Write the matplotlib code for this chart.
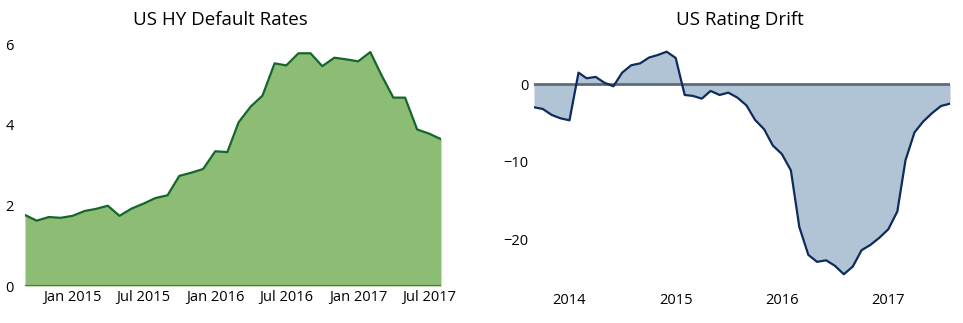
import matplotlib
matplotlib.use("Agg")
import matplotlib.pyplot as plt
import matplotlib.dates as mdates
import numpy as np
import pandas as pd
from matplotlib import font_manager

names = {f.name for f in font_manager.fontManager.ttflist}
tick_font = "Liberation Sans Narrow" if "Liberation Sans Narrow" in names else "Open Sans"
print("tick font:", tick_font)

# Data
hy_dates = pd.date_range("2014-09-01", periods=36, freq="MS")
hy_default = [1.76, 1.62, 1.71, 1.69, 1.74, 1.86, 1.91, 1.99, 1.74, 1.92,
              2.04, 2.18, 2.25, 2.73, 2.81, 2.90, 3.34, 3.32, 4.06, 4.45,
              4.72, 5.52, 5.47, 5.77, 5.77, 5.45, 5.66, 5.62, 5.57, 5.80,
              5.24, 4.67, 4.67, 3.88, 3.78, 3.64]

drift_dates = pd.date_range("2013-09-01", periods=48, freq="MS")
rating_drift = [-2.97, -3.18, -3.96, -4.39, -4.65, 1.5, 0.77, 0.95, 0.2, -0.26,
                1.5, 2.45, 2.7, 3.44, 3.78, 4.2, 3.4, -1.38, -1.5, -1.85,
                -0.86, -1.38, -1.08, -1.72, -2.71, -4.6, -5.8, -7.9, -9.0, -11.1,
                -18.4, -22.0, -22.9, -22.7, -23.4, -24.5, -23.5, -21.4, -20.7, -19.8,
                -18.7, -16.4, -9.8, -6.2, -4.8, -3.7, -2.8, -2.5]

hy_yticks = [0, 2, 4, 6]
drift_yticks = [-20, -10, 0]

fig = plt.figure(figsize=(9.63, 3.23), dpi=100)

# Left chart
ax1 = fig.add_axes([25/963, 37/323, 416/963, 242/323])
ax1.fill_between(hy_dates, 0, hy_default, color="#8dbd74", lw=0)
ax1.plot(hy_dates, hy_default, color="#14662a", lw=1.6)
ax1.axhline(0, color="#7a6440", lw=1.6)
ax1.set_xlim(hy_dates[0], hy_dates[-1])
ax1.set_ylim(0, 6)
ax1.set_yticks(hy_yticks)
ax1.xaxis.set_major_locator(mdates.MonthLocator(bymonth=[1, 7]))
ax1.xaxis.set_major_formatter(mdates.DateFormatter("%b %Y"))
for s in ax1.spines.values():
    s.set_visible(False)
ax1.tick_params(length=0, labelsize=10.5, pad=3)
ax1.tick_params(axis="y", pad=8)

# Right chart
ax2 = fig.add_axes([534/963, 41/323, 416/963, 236.5/323])
ax2.fill_between(drift_dates, 0, rating_drift, color="#b1c4d6", lw=0)
ax2.axhline(0, color="#5f6b78", lw=2.0)
ax2.plot(drift_dates, rating_drift, color="#0e2b5c", lw=1.6)
ax2.set_xlim(drift_dates[0], drift_dates[-1])
ax2.set_ylim(-25.5, 5)
ax2.set_yticks(drift_yticks)
ax2.xaxis.set_major_locator(mdates.YearLocator())
ax2.xaxis.set_major_formatter(mdates.DateFormatter("%Y"))
for s in ax2.spines.values():
    s.set_visible(False)
ax2.tick_params(length=0, labelsize=10.5, pad=8)
ax2.tick_params(axis="y", pad=4)

for ax in (ax1, ax2):
    for lab in ax.get_xticklabels() + ax.get_yticklabels():
        lab.set_fontfamily(tick_font)

fig.text(220/963, 1 - 20/323, "US HY Default Rates", ha="center", va="center",
         fontsize=13.5, family="Open Sans")
fig.text(740/963, 1 - 20/323, "US Rating Drift", ha="center", va="center",
         fontsize=13.5, family="Open Sans")

fig.savefig("out.png", dpi=100)
